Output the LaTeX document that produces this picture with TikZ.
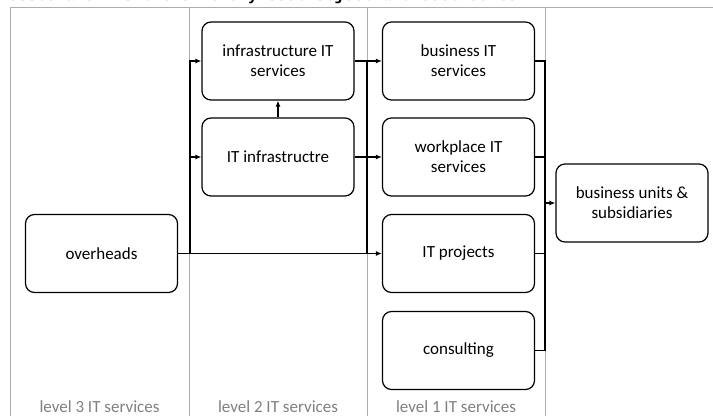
\documentclass[tikz,border=0pt]{standalone}
\usepackage{fontspec}
\setmainfont{Carlito}
\newfontfamily\typefont{Liberation Mono}
\usetikzlibrary{arrows.meta}
\definecolor{panelgrey}{HTML}{ADADAD}
\definecolor{labelgrey}{HTML}{808080}
\tikzset{
	costbox/.style={draw,line width=1.2pt,rounded corners=9pt,minimum width=152pt,minimum height=78pt,align=center,font=\fontsize{17}{20}\selectfont},
	flow/.style={line width=1.2pt,-{Latex[length=6pt,width=5pt]}},
	collector/.style={line width=1.2pt},
	panel/.style={draw=panelgrey,line width=0.9pt},
	levellabel/.style={anchor=base,text=labelgrey,font=\fontsize{17}{20}\selectfont}
}
\begin{document}
\begin{tikzpicture}[x=1pt,y=-1pt]
				\useasboundingbox (0,0) rectangle (713,416);
				\node[anchor=base west,inner sep=0pt,font=\typefont\bfseries\fontsize{16}{18}\selectfont] (topline) at (8,0) {costs are visible on every cost object and cost center.};
				\draw[panel] (10,416) |- (713,7);
				\draw[panel] (189,7) to (189,416);
				\draw[panel] (367,7) to (367,416);
				\draw[panel] (545,7) to (545,416);
				\node[levellabel] (lvlthree) at (99.5,412) {level 3 IT services};
				\node[levellabel] (lvltwo) at (278,412) {level 2 IT services};
				\node[levellabel] (lvlone) at (456,412) {level 1 IT services};
				\node[costbox] (ovh) at (101.5,253.5) {overheads};
				\node[costbox] (infsvc) at (278,61) {infrastructure IT\\services};
				\node[costbox] (itinf) at (278,157) {IT infrastructre};
				\node[costbox] (bizsvc) at (458.5,61) {business IT\\services};
				\node[costbox] (wrk) at (458.5,157) {workplace IT\\services};
				\node[costbox] (proj) at (458.5,253.5) {IT projects};
				\node[costbox] (cons) at (458.5,350.5) {consulting};
				\node[costbox] (units) at (632,203) {business units \&\\subsidiaries};
				\coordinate (splita) at (190,0);
				\coordinate (splitb) at (367,0);
				\coordinate (merge) at (545,0);
				\draw[flow] (ovh.east) to (proj.west);
				\draw[flow] (splita |- ovh.east) |- (infsvc.west);
				\draw[flow] (splita |- itinf.west) to (itinf.west);
				\draw[flow] (itinf.north) to (infsvc.south);
				\draw[flow] (infsvc.east) to (bizsvc.west);
				\draw[flow] (itinf.east) to (wrk.west);
				\draw[collector] (splitb |- infsvc.east) to (splitb |- proj.west);
				\draw[collector] (bizsvc.east) -| (merge |- cons.east) to (cons.east);
				\draw[collector] (wrk.east) to (wrk.east -| merge);
				\draw[collector] (proj.east) to (proj.east -| merge);
				\draw[flow] (merge |- units.west) to (units.west);
			\end{tikzpicture}
\end{document}
